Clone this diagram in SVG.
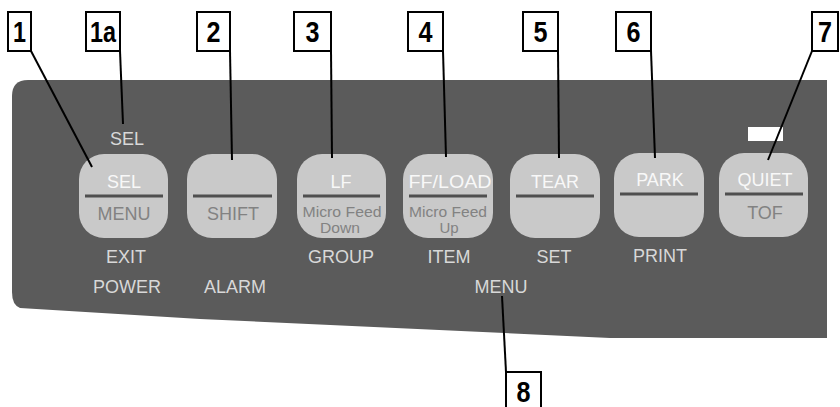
<svg xmlns="http://www.w3.org/2000/svg" width="840" height="407" viewBox="0 0 840 407">
<style>
.panel{fill:#5b5b5b}
.btn{fill:#c9c9c9}
.div{stroke:#4f4f4f;stroke-width:3}
.t{font-family:"Liberation Sans",Arial,sans-serif;font-size:18px;text-anchor:middle}
.top{fill:#f8f8f8}
.low{fill:#828282}
.sm{font-size:15px}
.lab{fill:#d8d8d8}
.box{fill:#fff;stroke:#000;stroke-width:2}
.num{font-family:"Liberation Sans",Arial,sans-serif;font-weight:bold;font-size:29px;text-anchor:middle;fill:#000}
.lead{stroke:#000;stroke-width:2;fill:none}
</style>
<rect width="840" height="407" fill="#fff"/>
<g id="panel">
<path class="panel" d="M28,80 H827 V338 H610 L200,319 L20,308 Q12,305 12,292 V96 Q12,80 28,80 Z"/>
<rect x="748" y="127" width="35" height="14" fill="#fff"/>
<text class="t lab" x="127" y="145">SEL</text>
<text class="t lab" x="127" y="293">POWER</text>
<text class="t lab" x="235" y="293">ALARM</text>
<text class="t lab" x="501" y="293">MENU</text>
</g>
<g id="btn1">
<rect class="btn" x="79" y="154" width="89" height="84" rx="25"/>
<line class="div" x1="85" y1="196" x2="163" y2="196"/>
<text class="t top" x="124" y="188">SEL</text>
<text class="t low" x="124" y="220">MENU</text>
<text class="t lab" x="126" y="263">EXIT</text>
</g>
<g id="btn2">
<rect class="btn" x="187" y="154" width="90" height="84" rx="25"/>
<line class="div" x1="193" y1="196" x2="272" y2="196"/>
<text class="t low" x="233" y="220">SHIFT</text>
</g>
<g id="btn3">
<rect class="btn" x="297" y="154" width="89" height="84" rx="25"/>
<line class="div" x1="303" y1="196" x2="380" y2="196"/>
<text class="t top" x="341" y="188">LF</text>
<text class="t low sm" x="342" y="217" textLength="79" lengthAdjust="spacingAndGlyphs">Micro Feed</text>
<text class="t low sm" x="340" y="233" textLength="40" lengthAdjust="spacingAndGlyphs">Down</text>
<text class="t lab" x="341" y="263">GROUP</text>
</g>
<g id="btn4">
<rect class="btn" x="403" y="154" width="90" height="84" rx="25"/>
<line class="div" x1="409" y1="196" x2="487" y2="196"/>
<text class="t top" x="450" y="188" textLength="83" lengthAdjust="spacingAndGlyphs">FF/LOAD</text>
<text class="t low sm" x="448" y="217" textLength="78" lengthAdjust="spacingAndGlyphs">Micro Feed</text>
<text class="t low sm" x="449" y="233">Up</text>
<text class="t lab" x="449" y="263">ITEM</text>
</g>
<g id="btn5">
<rect class="btn" x="510" y="154" width="90" height="84" rx="25"/>
<line class="div" x1="516" y1="196" x2="594" y2="196"/>
<text class="t top" x="555" y="188">TEAR</text>
<text class="t lab" x="554" y="263">SET</text>
</g>
<g id="btn6">
<rect class="btn" x="614" y="153" width="90" height="84" rx="25"/>
<line class="div" x1="620" y1="194" x2="698" y2="194"/>
<text class="t top" x="660" y="186">PARK</text>
<text class="t lab" x="660" y="262">PRINT</text>
</g>
<g id="btn7">
<rect class="btn" x="719" y="153" width="89" height="84" rx="25"/>
<line class="div" x1="725" y1="194" x2="803" y2="194"/>
<text class="t top" x="765" y="186">QUIET</text>
<text class="t low" x="765" y="219">TOF</text>
</g>
<g id="connectors">
<line class="lead" x1="31" y1="51" x2="92" y2="167"/>
<line class="lead" x1="120" y1="51" x2="123" y2="124"/>
<line class="lead" x1="230" y1="51" x2="232" y2="160"/>
<line class="lead" x1="331" y1="51" x2="332" y2="158"/>
<line class="lead" x1="443" y1="51" x2="446" y2="157"/>
<line class="lead" x1="558" y1="51" x2="559" y2="158"/>
<line class="lead" x1="651" y1="51" x2="655" y2="158"/>
<line class="lead" x1="812" y1="51" x2="768" y2="160"/>
<line class="lead" x1="506" y1="372" x2="502" y2="296"/>
</g>
<g id="c1"><rect class="box" x="8" y="12" width="23" height="39"/><text class="num" x="19.5" y="42" textLength="13" lengthAdjust="spacingAndGlyphs">1</text></g>
<g id="c1a"><rect class="box" x="86" y="12" width="34" height="39"/><text class="num" x="103" y="42" textLength="26" lengthAdjust="spacingAndGlyphs">1a</text></g>
<g id="c2"><rect class="box" x="197" y="12" width="33" height="39"/><text class="num" x="213.5" y="42" textLength="14" lengthAdjust="spacingAndGlyphs">2</text></g>
<g id="c3"><rect class="box" x="294" y="12" width="37" height="39"/><text class="num" x="312.5" y="42" textLength="14" lengthAdjust="spacingAndGlyphs">3</text></g>
<g id="c4"><rect class="box" x="408" y="12" width="35" height="39"/><text class="num" x="425.5" y="42" textLength="14" lengthAdjust="spacingAndGlyphs">4</text></g>
<g id="c5"><rect class="box" x="523" y="12" width="35" height="39"/><text class="num" x="540.5" y="42" textLength="14" lengthAdjust="spacingAndGlyphs">5</text></g>
<g id="c6"><rect class="box" x="616" y="12" width="35" height="39"/><text class="num" x="633.5" y="42" textLength="14" lengthAdjust="spacingAndGlyphs">6</text></g>
<g id="c7"><rect class="box" x="812" y="12" width="26" height="39"/><text class="num" x="825" y="42" textLength="14" lengthAdjust="spacingAndGlyphs">7</text></g>
<g id="c8"><rect class="box" x="506" y="372" width="35" height="39"/><text class="num" x="523.5" y="402" textLength="14" lengthAdjust="spacingAndGlyphs">8</text></g>
</svg>
